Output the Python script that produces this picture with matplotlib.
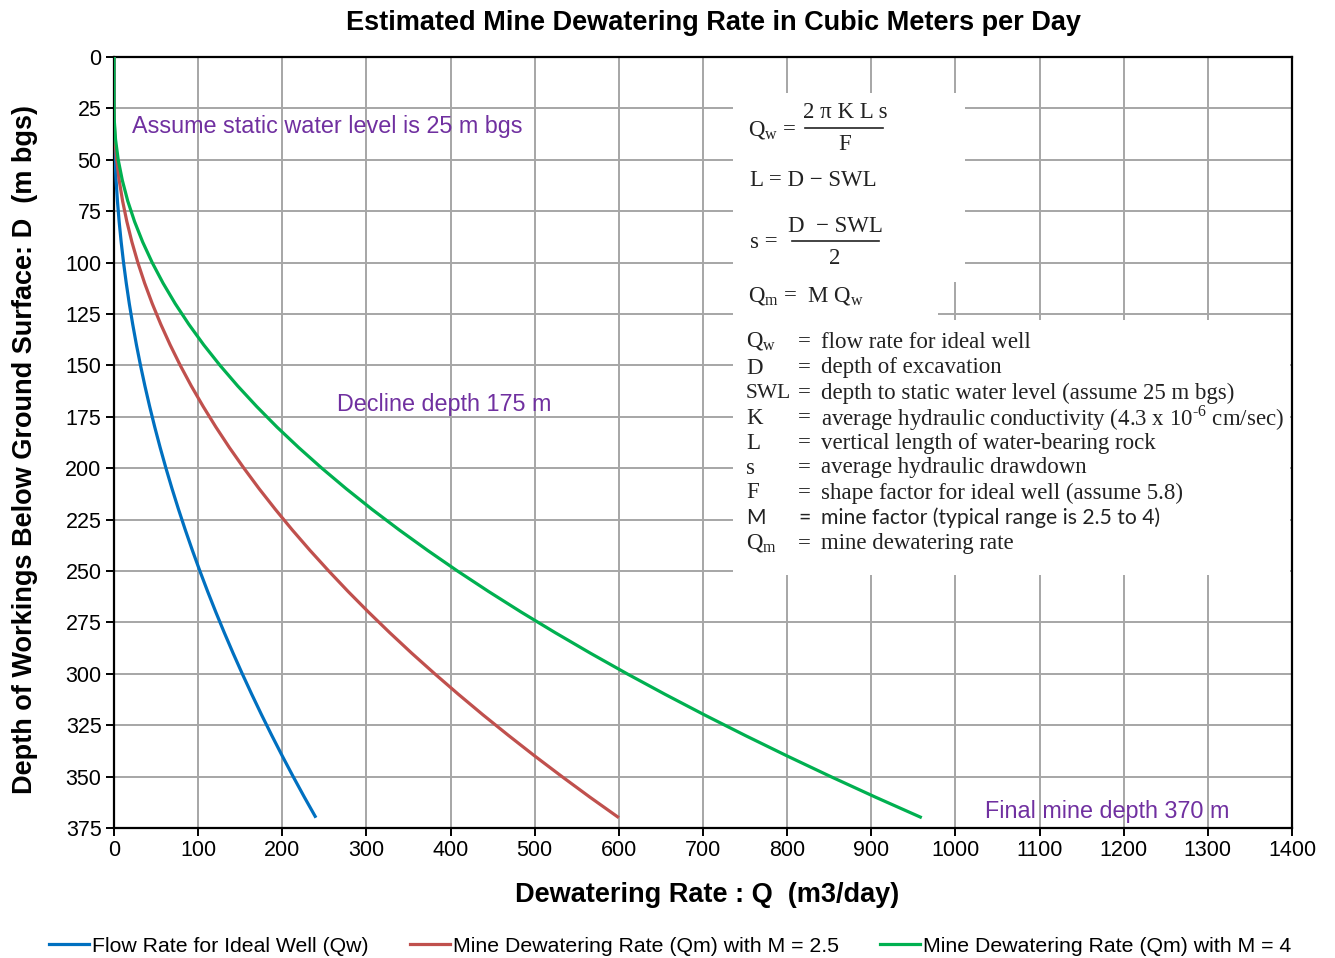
import matplotlib
matplotlib.use("Agg")
import matplotlib.pyplot as plt
from matplotlib.patches import Rectangle
from matplotlib.lines import Line2D

# ---- data ----
depth = [0, 25, 30, 40, 50, 60, 70, 80, 90, 100, 110, 120, 130, 140, 150, 160, 170, 180,
         190, 200, 210, 220, 230, 240, 250, 260, 270, 280, 290, 300, 310, 320, 330, 340,
         350, 360, 370]
qw = [0, 0, 0.05, 0.45, 1.26, 2.47, 4.08, 6.10, 8.52, 11.34, 14.57, 18.19, 22.23, 26.66,
      31.50, 36.74, 42.39, 48.43, 54.89, 61.74, 69.00, 76.66, 84.72, 93.19, 102.06, 111.33,
      121.01, 131.09, 141.57, 152.46, 163.75, 175.44, 187.54, 200.04, 212.94, 226.25, 240.0]
qm_25 = [0, 0, 0.13, 1.13, 3.15, 6.18, 10.2, 15.25, 21.3, 28.35, 36.4, 45.5, 55.6, 66.7,
         78.75, 91.85, 106.0, 121.1, 137.2, 154.4, 172.5, 191.7, 211.8, 233.0, 255.2, 278.3,
         302.5, 327.7, 353.9, 381.2, 409.4, 438.6, 468.9, 500.1, 532.4, 565.6, 600.0]
qm_4 = [0, 0, 0.2, 1.8, 5.0, 9.9, 16.3, 24.4, 34.1, 45.4, 58.3, 72.8, 88.9, 106.6, 126.0,
        147.0, 169.6, 193.7, 219.6, 247.0, 276.0, 306.6, 338.9, 372.8, 408.2, 445.3, 484.0,
        524.4, 566.3, 609.8, 655.0, 701.8, 750.2, 800.2, 851.8, 905.0, 960.0]
series_labels = ["Flow Rate for Ideal Well (Qw)",
                 "Mine Dewatering Rate (Qm) with M = 2.5",
                 "Mine Dewatering Rate (Qm) with M = 4"]
series_colors = ["#0070C0", "#C0504D", "#00B050"]
x_ticks = list(range(0, 1401, 100))
y_ticks = list(range(0, 376, 25))

W, H = 1335, 958
fig = plt.figure(figsize=(W / 100, H / 100), dpi=100)
ax = fig.add_axes([114 / W, 1 - 828 / H, (1292 - 114) / W, (828 - 57) / H])

def P(x, y):
    return (x / W, 1 - y / H)

for vals, lab, col in zip([qw, qm_25, qm_4], series_labels, series_colors):
    ax.plot(vals, depth, color=col, lw=2.3, label=lab, zorder=3, solid_capstyle="butt")

ax.set_xlim(0, 1400)
ax.set_ylim(375, 0)
ax.set_xticks(x_ticks)
ax.set_yticks(y_ticks)
ax.set_axisbelow(True)
ax.grid(True, color="#a6a6a6", lw=1.4, zorder=0)
for s in ax.spines.values():
    s.set_color("black")
    s.set_linewidth(1.6)
ax.tick_params(axis="both", direction="out", length=6, width=1.4, labelsize=15.5, pad=3,
               colors="black")
for t in ax.get_xticklabels() + ax.get_yticklabels():
    t.set_fontfamily("Liberation Sans")

# white boxes hiding the grid behind the formula block
def px2data(x, y):
    return ((x - 114) / (1292 - 114) * 1400, (y - 57) / (828 - 57) * 375)

for (x0, y0, x1, y1) in [(733, 93, 965, 282), (733, 280, 938, 322), (733, 320, 1290, 575)]:
    dx0, dy0 = px2data(x0, y0)
    dx1, dy1 = px2data(x1, y1)
    ax.add_patch(Rectangle((dx0, dy0), dx1 - dx0, dy1 - dy0, facecolor="white",
                           edgecolor="none", zorder=1))

# labels
fig.text(*P(714, 23), "Estimated Mine Dewatering Rate in Cubic Meters per Day",
         ha="center", va="center", fontsize=19.5, fontweight="bold", family="Liberation Sans")
fig.text(*P(707, 895), "Dewatering Rate : Q  (m3/day)", ha="center", va="center",
         fontsize=19.5, fontweight="bold", family="Liberation Sans")
fig.text(*P(25, 450), "Depth of Workings Below Ground Surface: D  (m bgs)", ha="center",
         va="center", rotation=90, fontsize=19.5, fontweight="bold", family="Liberation Sans")

purple = "#7030A0"
ax.text(21, 34, "Assume static water level is 25 m bgs", color=purple, fontsize=16.8,
        family="Liberation Sans", va="center", ha="left", zorder=4)
ax.text(265, 169, "Decline depth 175 m", color=purple, fontsize=16.8,
        family="Liberation Sans", va="center", ha="left", zorder=4)
ax.text(1035, 367, "Final mine depth 370 m", color=purple, fontsize=16.8,
        family="Liberation Sans", va="center", ha="left", zorder=4)

# formula block
serif = "Liberation Serif"
fs = 16.5
tc = "#222222"
def ftxt(x, y, s, ha="left", family=serif, size=fs):
    fig.text(*P(x, y), s, ha=ha, va="center", fontsize=size, family=family, color=tc)

def fline(x0, x1, y):
    fig.add_artist(Line2D([x0 / W, x1 / W], [1 - y / H, 1 - y / H], color=tc, lw=1.2,
                          transform=fig.transFigure))

ftxt(748, 131, r"Q$_\mathregular{w}$ =")
ftxt(845, 112, "2 π K L s", ha="center")
fline(805, 883, 128)
ftxt(845, 144, "F", ha="center")
ftxt(750, 181, "L = D − SWL")
ftxt(750, 243, "s =")
ftxt(835, 226, "D  − SWL", ha="center")
fline(792, 879, 241)
ftxt(835, 258, "2", ha="center")
ftxt(748, 297, r"Q$_\mathregular{m}$ =  M Q$_\mathregular{w}$")

rows = [
    (r"Q$_\mathregular{w}$", "flow rate for ideal well", serif),
    ("D", "depth of excavation", serif),
    ("SWL", "depth to static water level (assume 25 m bgs)", serif),
    ("K", r"average hydraulic conductivity (4.3 x 10$^\mathregular{‐6}$ cm/sec)", serif),
    ("L", "vertical length of water-bearing rock", serif),
    ("s", "average hydraulic drawdown", serif),
    ("F", "shape factor for ideal well (assume 5.8)", serif),
    ("M", "mine factor (typical range is 2.5 to 4)", "Lato"),
    (r"Q$_\mathregular{m}$", "mine dewatering rate", serif),
]
row_y = [342, 368, 393, 418, 443, 468, 493, 518, 544]
for (lab, desc, fam), yy in zip(rows, row_y):
    sz = 15.2 if fam == "Lato" else fs
    ftxt(746, yy, lab, family=fam, size=sz if lab != "SWL" else 15.5)
    ftxt(798, yy, "=", family=fam, size=sz)
    ftxt(821, yy, desc, family=fam, size=sz)

# legend
handles = [Line2D([], [], color=c, lw=2.3) for c in series_colors]
fig.legend(handles, series_labels, loc="center", bbox_to_anchor=P(670, 946), ncol=3,
           frameon=False, prop={"family": "Liberation Sans", "size": 15.3},
           handlelength=1.87, handletextpad=0.14, columnspacing=1.95)

fig.savefig("out.png", dpi=100, facecolor="white")
